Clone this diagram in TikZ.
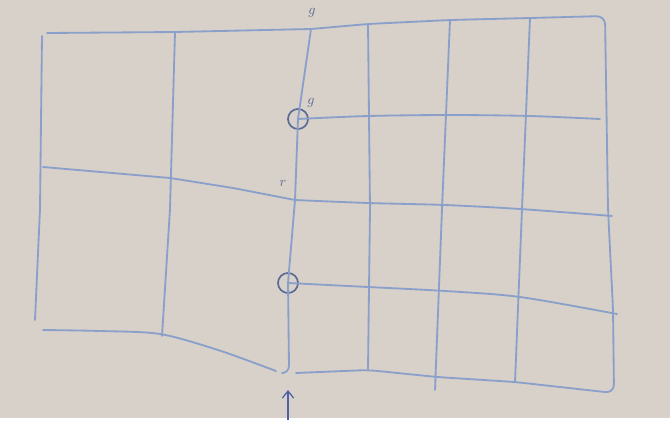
\documentclass[tikz,border=0pt]{standalone}
\usetikzlibrary{positioning, arrows.meta}

\definecolor{paper}{RGB}{215,209,201}
\definecolor{pen}{RGB}{138,160,202}
\definecolor{ink}{RGB}{92,106,150}
\definecolor{arrowink}{RGB}{78,96,168}

\tikzset{
  gridline/.style={draw=pen, line width=1.3pt, line cap=round, line join=round},
  ring/.style={draw=ink, circle, line width=1.2pt, minimum size=0.5cm, inner sep=0pt},
  tag/.style={text=ink, font=\normalsize, inner sep=1pt},
}

\begin{document}
\begin{tikzpicture}[x=0.025cm, y=-0.025cm, >={Straight Barb[length=5pt, width=8pt]}]
    % Paper
    \fill[paper] (0,0) rectangle (670,418);

    % Points on the dividing line
    \coordinate (s0) at (311,29);
    \coordinate (s2) at (295,200);
    \coordinate (s4) at (289,366);
    \node[ring] (c1) at (298,119) {};
    \node[ring] (c3) at (288,283) {};

    % Left half: frame and grid
    \draw[gridline] (47,33) -- (175,32) -- (s0);
    \draw[gridline] (42,36) -- (40,209) -- (35,320);
    \draw[gridline] (175,32) -- (170,209) -- (162,336);
    \draw[gridline] (43,167) -- (170,178) -- (233,188) -- (s2);
    \draw[gridline] plot[smooth] coordinates {(43,330) (100,331) (160,334) (218,350) (276,371)};

    % Dividing line, with its hook at the foot
    \draw[gridline] (s0) -- (c1.center) -- (s2) -- (c3.center) -- (s4)
        to[out=-90, in=0] (282,373);

    % Right half: frame
    \draw[gridline, rounded corners=6pt] (s0) -- (368,24) -- (450,20) -- (530,18) -- (605,16)
        -- (608,209) -- (613,309) -- (614,393) -- (515,382) -- (437,377) -- (368,370) -- (296,373);

    % Right half: columns
    \draw[gridline] (368,24) -- (370,209) -- (368,369);
    \draw[gridline] (450,20) -- (442,209) -- (435,390);
    \draw[gridline] (530,18) -- (522,209) -- (515,382);

    % Right half: rows starting at the rings and the kink
    \draw[gridline] plot[smooth] coordinates {(c1.center) (368,116) (450,115) (530,116) (600,119)};
    \draw[gridline] plot[smooth] coordinates {(s2) (368,203) (445,205) (520,209) (612,216)};
    \draw[gridline] plot[smooth] coordinates {(c3.center) (368,287) (445,291) (520,297) (617,314)};

    % Labels
    \node[tag] (gtop) at (312,13) {$g$};
    \node[tag] (gring) at (311,103) {$g$};
    \node[tag] (rkink) at (283,183) {$r$};

    % Arrow pointing at the foot of the dividing line
    \coordinate (foot) at (288,420);
    \coordinate (tip) at (288,390);
    \draw[->, arrowink, line width=0.9pt] (foot) -- (tip);
\end{tikzpicture}
\end{document}
